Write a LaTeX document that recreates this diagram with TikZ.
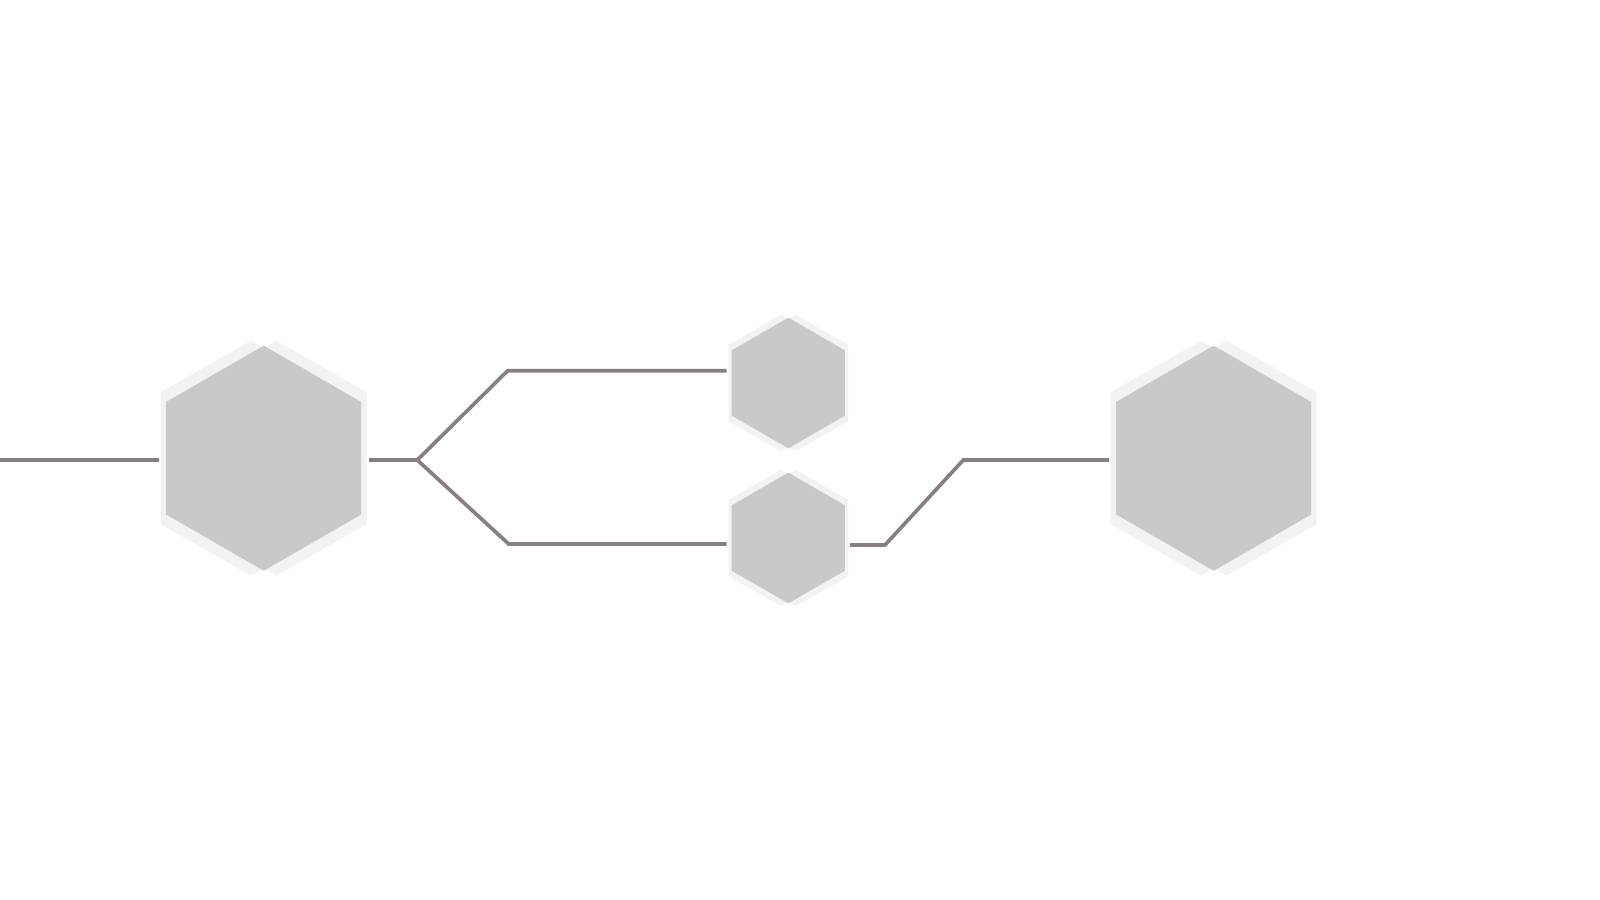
\documentclass[tikz,border=0pt]{standalone}
\usepackage{tikz}
\usetikzlibrary{shapes.geometric, positioning, calc, backgrounds}

\definecolor{hexfill}{RGB}{201,201,201}
\definecolor{halofill}{RGB}{242,242,242}
\definecolor{wire}{RGB}{138,127,127}

\tikzset{
  hexnode/.style={regular polygon, regular polygon sides=6,
    shape border rotate=30, fill=hexfill, inner sep=0pt,
    outer sep=0pt, minimum size=#1},
  wireline/.style={wire, line width=1.05pt},
}

\begin{document}
\begin{tikzpicture}[x=0.01cm, y=-0.01cm]

  \useasboundingbox (0,0) rectangle (1600,900);

  % --- Hexagons ---
  \node[hexnode=2.25cm]  (hexA) at (263.7,458.2) {};
  \node[hexnode=1.306cm] (hexB) at (788.3,383)   {};
  \node[hexnode=1.306cm] (hexC) at (788.3,538)   {};
  \node[hexnode=2.25cm]  (hexD) at (1213.7,458.2) {};

  % --- Light halos behind the hexagons ---
  \begin{scope}[on background layer]
    \foreach \n/\r in {hexA/112.5, hexB/65.3, hexC/65.3, hexD/112.5}{
      \fill[halofill, shift={(\n.center)}, scale=\r]
        (-0.114,-1.044) -- (0,-0.978) -- (0.114,-1.044) -- (0.915,-0.587)
        -- (0.915,0.587) -- (0.114,1.044) -- (0,0.978) -- (-0.114,1.044)
        -- (-0.915,0.587) -- (-0.915,-0.587) -- cycle;
    }
  \end{scope}

  % --- Junction points ---
  \coordinate (start) at (0,460);
  \coordinate (fork)  at (417.3,460);
  \coordinate (bendB) at (507.7,370.7);
  \coordinate (bendC) at (508.7,544);
  \coordinate (lowD)  at (885,545);
  \coordinate (highD) at (963.3,460);

  % --- Connectors ---
  \draw[wireline] (start) -- ($(hexA.west)+(-7,1.8)$);
  \draw[wireline] ($(hexA.east)+(8,1.8)$) -- (fork)
    -- (bendB) -- ($(hexB.west)+(-5,-12.3)$);
  \draw[wireline] (fork) -- (bendC) -- ($(hexC.west)+(-5,6)$);
  \draw[wireline] ($(hexC.east)+(5,7)$) -- (lowD)
    -- (highD) -- ($(hexD.west)+(-7,1.8)$);

\end{tikzpicture}
\end{document}
